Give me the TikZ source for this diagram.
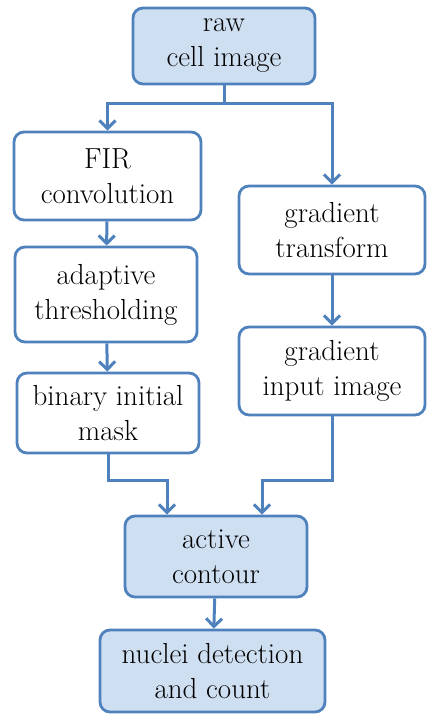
\documentclass[tikz,border=0pt]{standalone}
\usepackage{times}
\usetikzlibrary{arrows.meta,positioning}

\definecolor{edgeblue}{RGB}{79,129,189}
\definecolor{boxblue}{RGB}{207,223,242}

\tikzset{
    stepbox/.style={rectangle, rounded corners=10pt, draw=edgeblue, line width=2.8pt,
        fill=white, align=center, inner sep=0pt,
        font=\rmfamily\fontsize{29}{35}\selectfont},
    mainbox/.style={stepbox, fill=boxblue},
    arr/.style={draw=edgeblue, line width=3pt,
        -{Straight Barb[length=8pt,width=16pt]}},
    link/.style={draw=edgeblue, line width=3pt}
}

\begin{document}
\begin{tikzpicture}[x=1pt, y=-1pt]
    \useasboundingbox (0,0) rectangle (427,714);

    % Input
    \node[mainbox, minimum width=182pt, minimum height=76pt] (raw) at (224,46) {raw\\cell image};

    % Left branch
    \node[stepbox, minimum width=187pt, minimum height=88pt] (fir) at (107.5,176) {FIR\\convolution};
    \node[stepbox, minimum width=182pt, minimum height=95pt] (adapt) at (106,294.5) {adaptive\\thresholding};
    \node[stepbox, minimum width=182pt, minimum height=80pt] (mask) at (108,413) {binary initial\\mask};

    % Right branch
    \node[stepbox, minimum width=186pt, minimum height=88pt] (grad) at (332,230) {gradient\\transform};
    \node[stepbox, minimum width=186pt, minimum height=88pt] (gin) at (332,371) {gradient\\input image};

    % Output
    \node[mainbox, minimum width=182pt, minimum height=81pt] (active) at (216,556.5) {active\\contour};
    \node[mainbox, minimum width=225pt, minimum height=82pt] (nuclei) at (212.5,671) {nuclei detection\\and count};

    % Connecting lines
    \coordinate (split) at (224,104);
    \coordinate (jl) at (167,480);
    \coordinate (jr) at (262,480);

    \draw[link] (raw.south) -- (split);
    \draw[arr] (split) -| (fir.north);
    \draw[arr] (split) -| (grad.north);
    \draw[arr] (fir) -- (adapt);
    \draw[arr] (adapt) -- (mask);
    \draw[arr] (grad) -- (gin);
    \draw[arr] (mask.south) |- (jl) -- (jl |- active.north);
    \draw[arr] (gin.south) |- (jr) -- (jr |- active.north);
    \draw[arr] (active) -- (nuclei);
\end{tikzpicture}
\end{document}
